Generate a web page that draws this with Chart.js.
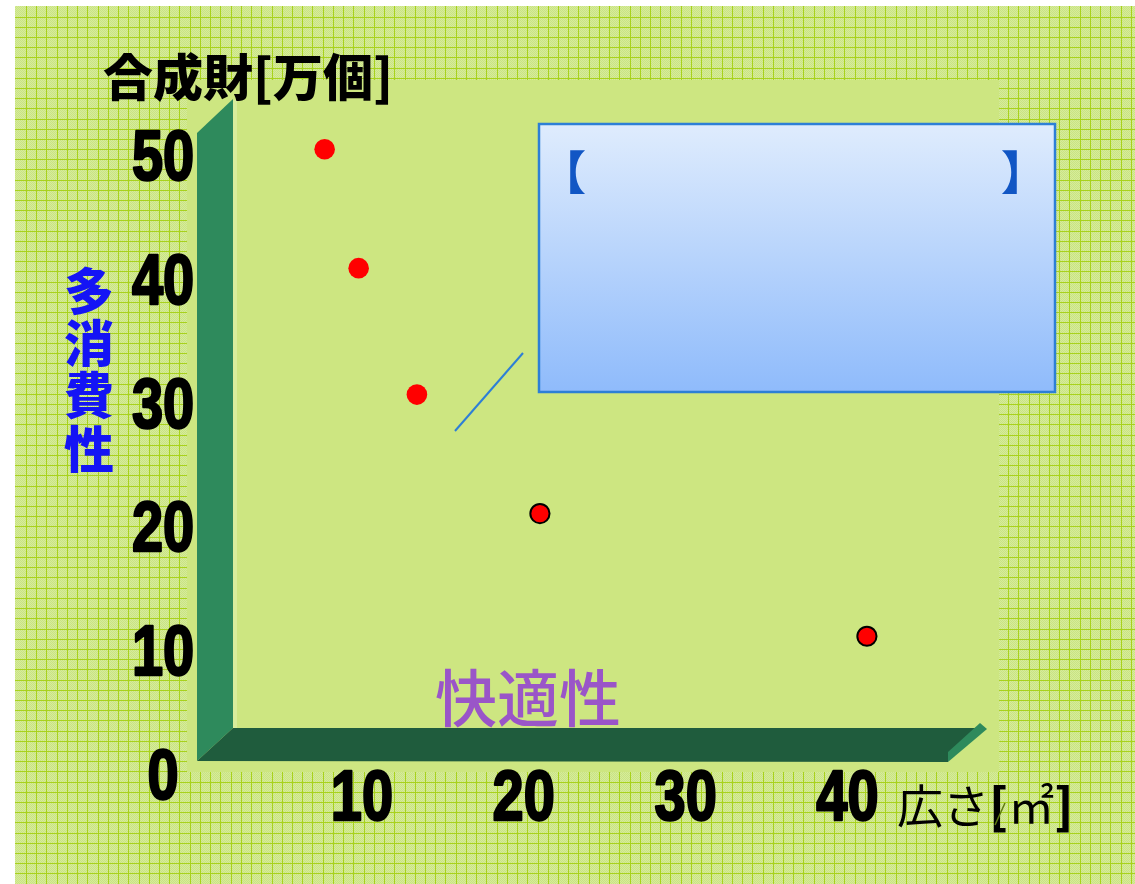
<!DOCTYPE html>
<html>
<head>
<meta charset="utf-8">
<title>合成財と広さ</title>
<script src="https://cdn.jsdelivr.net/npm/chart.js@4.4.1/dist/chart.umd.min.js"></script>
<style>
  html, body { margin: 0; padding: 0; background: #fff; }
  canvas { display: block; }
</style>
</head>
<body>
<canvas id="chart" width="1135" height="884"></canvas>
<script>
// Data
const X_VALUES = [7.7, 9.8, 13.4, 21.0, 41.2];   // 広さ (m²)
const Y_VALUES = [50.9, 41.3, 31.1, 21.5, 11.6]; // 合成財 (万個)
const X_TICKS = [10, 20, 30, 40];
const Y_TICKS = [0, 10, 20, 30, 40, 50];

const Y_TITLE = '合成財[万個]';
const SIDE_LABEL = '多消費性';
const FLOOR_LABEL = '快適性';
const X_TITLE = ['広さ', '[', '㎡', ']'];

const W = 1135, H = 884;
const NUM_FAMILY = 'Liberation Sans';
const JP_FONT = "'Noto Sans CJK JP', sans-serif";

const canvas = document.getElementById('chart');
const ctx = canvas.getContext('2d');

// the tick numbers in the original are a heavy condensed face (Impact-like),
// so squeeze + thicken anything drawn in the number font
const nativeFillText = ctx.fillText;
ctx.fillText = function (s, x, y, maxWidth) {
  if (this.font.indexOf(NUM_FAMILY) >= 0) {
    this.save();
    this.translate(x, y);
    this.scale(0.8, 1);
    this.strokeStyle = this.fillStyle;
    this.lineWidth = 2.5;
    this.lineJoin = 'round';
    this.strokeText(s, 0, 0);
    nativeFillText.call(this, s, 0, 0);
    this.restore();
  } else if (maxWidth === undefined) {
    nativeFillText.call(this, s, x, y);
  } else {
    nativeFillText.call(this, s, x, y, maxWidth);
  }
};

// Helpers
function poly(c, pts, color) {
  c.beginPath();
  c.moveTo(pts[0][0], pts[0][1]);
  for (let i = 1; i < pts.length; i++) c.lineTo(pts[i][0], pts[i][1]);
  c.closePath();
  c.fillStyle = color;
  c.fill();
}

function text(c, s, x, y, font, color, align) {
  c.font = font;
  c.fillStyle = color;
  c.textAlign = align || 'left';
  c.textBaseline = 'middle';
  c.fillText(s, x, y);
}

// graph paper background + plain panel + 3d axes + callout box
const backdrop = {
  id: 'backdrop',
  beforeDraw(chart) {
    const c = chart.ctx;
    c.save();
    c.fillStyle = '#fff';
    c.fillRect(0, 0, W, H);

    const tile = document.createElement('canvas');
    tile.width = 2; tile.height = 2;
    const t = tile.getContext('2d');
    t.fillStyle = '#d6ec9a'; t.fillRect(0, 0, 2, 2);
    t.fillStyle = '#c9e383'; t.fillRect(0, 0, 1, 1); t.fillRect(1, 1, 1, 1);
    c.fillStyle = c.createPattern(tile, 'repeat');
    c.fillRect(15, 6, W - 15, H - 6);
    c.fillStyle = '#a8d21c';
    for (let x = 26; x < W; x += 10.23) c.fillRect(Math.round(x), 6, 1, H - 6);
    for (let y = 16.5; y < H; y += 10.2) c.fillRect(15, Math.round(y), W - 15, 1);

    // plain panel
    c.fillStyle = '#cde681';
    c.fillRect(187, 80, 812, 692);

    // wall
    poly(c, [[197, 761], [197, 133], [233, 99], [233, 728]], '#2e8a5c');
    c.fillStyle = '#d8ed9c';
    c.fillRect(233, 100, 4, 628);
    // floor
    poly(c, [[197, 761], [233, 728], [978, 728], [948, 755], [948, 762]], '#1f5c3d');
    poly(c, [[948, 762], [948, 752], [980, 723], [987, 729]], '#2e8a5c');

    // callout box
    const g = c.createLinearGradient(0, 124, 0, 392);
    g.addColorStop(0, '#dfecfd');
    g.addColorStop(1, '#8fbbfb');
    c.fillStyle = g;
    c.fillRect(539, 124, 516, 268);
    c.strokeStyle = '#2d7fd6';
    c.lineWidth = 2.5;
    c.strokeRect(539, 124, 516, 268);
    c.lineWidth = 2;
    c.beginPath();
    c.moveTo(455, 431);
    c.lineTo(523, 353);
    c.stroke();
    c.restore();
  },
  afterDraw(chart) {
    const c = chart.ctx;
    c.save();
    text(c, Y_TITLE, 103, 77, '900 50px ' + JP_FONT, '#000');
    const ys = [291, 343, 395, 449];
    for (let i = 0; i < SIDE_LABEL.length; i++) {
      text(c, SIDE_LABEL[i], 89, ys[i], '900 50px ' + JP_FONT, '#1414f5', 'center');
    }
    text(c, FLOOR_LABEL, 435, 698, '500 62px ' + JP_FONT, '#9a55c8');

    text(c, '【', 586, 172, '900 46px ' + JP_FONT, '#1156c4', 'right');
    text(c, '】', 1001, 172, '900 46px ' + JP_FONT, '#1156c4', 'left');

    // x axis title
    let x = 897;
    text(c, X_TITLE[0], x, 806, '46px ' + JP_FONT, '#000');
    x += c.measureText(X_TITLE[0]).width;
    text(c, X_TITLE[1], x, 806, '900 48px ' + JP_FONT, '#000');
    x += c.measureText(X_TITLE[1]).width;
    text(c, X_TITLE[2], x, 806, '46px ' + JP_FONT, '#000');
    x += c.measureText(X_TITLE[2]).width;
    text(c, X_TITLE[3], x, 806, '900 48px ' + JP_FONT, '#000');

    c.strokeStyle = '#5f7a10';
    c.lineWidth = 1.5;
    c.beginPath();
    c.moveTo(995, 825);
    c.lineTo(1005, 803);
    c.stroke();
    c.restore();
  }
};

const numFont = { family: NUM_FAMILY, size: 70, weight: 'bold' };

const chart = new Chart(canvas, {
  type: 'scatter',
  data: {
    datasets: [{
      data: X_VALUES.map((x, i) => ({ x: x, y: Y_VALUES[i] })),
      pointRadius: [10.3, 10.3, 10.3, 9.6, 9.6],
      pointBackgroundColor: '#ff0000',
      pointBorderColor: ['#ff0000', '#ff0000', '#ff0000', '#000000', '#000000'],
      pointBorderWidth: [0, 0, 0, 2, 2],
      showLine: false
    }]
  },
  options: {
    responsive: false,
    animation: false,
    events: [],
    layout: { padding: { top: 86, right: 158, bottom: 0, left: 0 } },
    plugins: {
      legend: { display: false },
      tooltip: { enabled: false }
    },
    scales: {
      x: {
        type: 'linear',
        min: 0,
        max: 48,
        grid: { display: false, drawTicks: false },
        border: { display: false },
        afterBuildTicks: (s) => { s.ticks = X_TICKS.map(v => ({ value: v })); },
        afterFit: (s) => { s.height = 119; },
        ticks: { font: numFont, color: '#000', padding: -6, maxRotation: 0, autoSkip: false }
      },
      y: {
        type: 'linear',
        min: 1.21,
        max: 56,
        grid: { display: false, drawTicks: false },
        border: { display: false },
        afterBuildTicks: (s) => { s.ticks = Y_TICKS.map(v => ({ value: v })); },
        afterFit: (s) => { s.width = 200; },
        ticks: { font: numFont, color: '#000', padding: -2, crossAlign: 'center', autoSkip: false }
      }
    }
  },
  plugins: [backdrop]
});
</script>
</body>
</html>
